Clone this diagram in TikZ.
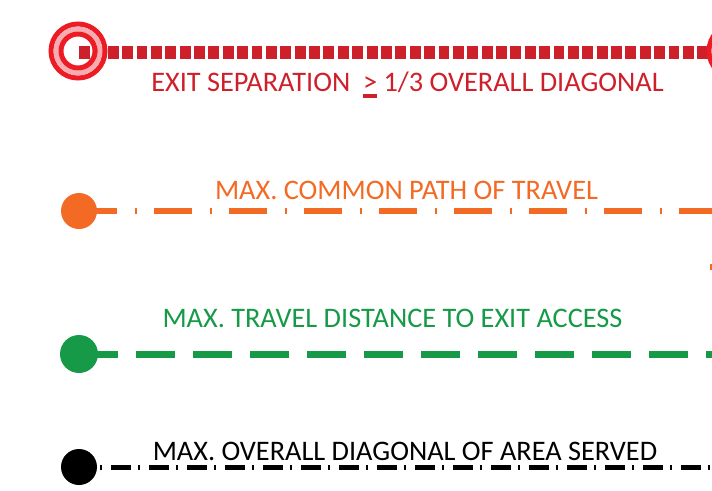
\documentclass[tikz,border=0pt]{standalone}
\usepackage{fontspec}
\setmainfont{Carlito}
\definecolor{dashred}{RGB}{206,32,42}
\definecolor{ringred}{RGB}{237,28,36}
\definecolor{ringpink}{RGB}{247,172,178}
\definecolor{orng}{RGB}{243,106,36}
\definecolor{grn}{RGB}{22,154,72}
\newlength\gtw
\newcommand\ulgt{\settowidth\gtw{>}\rlap{\rule[-6pt]{\gtw}{3.5pt}}>}
\tikzset{
  lbl/.style={font=\fontsize{28.3}{32}\selectfont, inner sep=0pt, anchor=center},
  enddot/.style={circle, inner sep=0pt, minimum size=36pt},
}
\begin{document}
\begin{tikzpicture}[x=1pt,y=-1pt]
\useasboundingbox (0,0) rectangle (712,490);
% red line
\coordinate (rs) at (79,52);
\coordinate (re) at (735,52);
\draw[dashred, line width=13pt, dash pattern=on 10.9pt off 3.48pt] (rs) -- (re);
\foreach \cx/\nm in {78/lt, 736/rt}{
  \coordinate (\nm) at (\cx,51);
  \draw[ringred, line width=5pt] (\nm) circle[radius=27];
  \draw[ringpink, line width=5pt] (\nm) circle[radius=22];
  \draw[ringred, line width=5pt] (\nm) circle[radius=17];
}
\node[lbl, text=dashred] (tred) at (407.5,85) {EXIT SEPARATION\ \ \ulgt\ 1/3 OVERALL DIAGONAL};
% orange
\node[enddot, fill=orng] (od) at (79,211) {};
\coordinate (oe) at (712,211);
\draw[orng, line width=5.5pt, dash pattern=on 38pt off 18pt on 2pt off 17pt] (od.center) -- (oe);
\node[lbl, text=orng] (tor) at (406.5,190) {MAX. COMMON PATH OF TRAVEL};
\draw[orng, line width=2pt] (711,264) -- (711,270);
% green
\node[enddot, fill=grn, minimum size=38pt] (gd) at (79,354) {};
\coordinate (ge) at (712,354);
\draw[grn, line width=7pt, dash pattern=on 39pt off 18pt] (gd.center) -- (ge);
\node[lbl, text=grn] (tgr) at (392.5,318) {MAX. TRAVEL DISTANCE TO EXIT ACCESS};
% black
\node[enddot, fill=black] (bd) at (79,467) {};
\coordinate (be) at (712,467);
\draw[black, line width=5pt, dash pattern=on 20pt off 7pt on 2pt off 9pt, dash phase=6pt] (bd.center) -- (be);
\node[lbl, text=black] (tbk) at (405,451) {MAX. OVERALL DIAGONAL OF AREA SERVED};
\end{tikzpicture}
\end{document}
